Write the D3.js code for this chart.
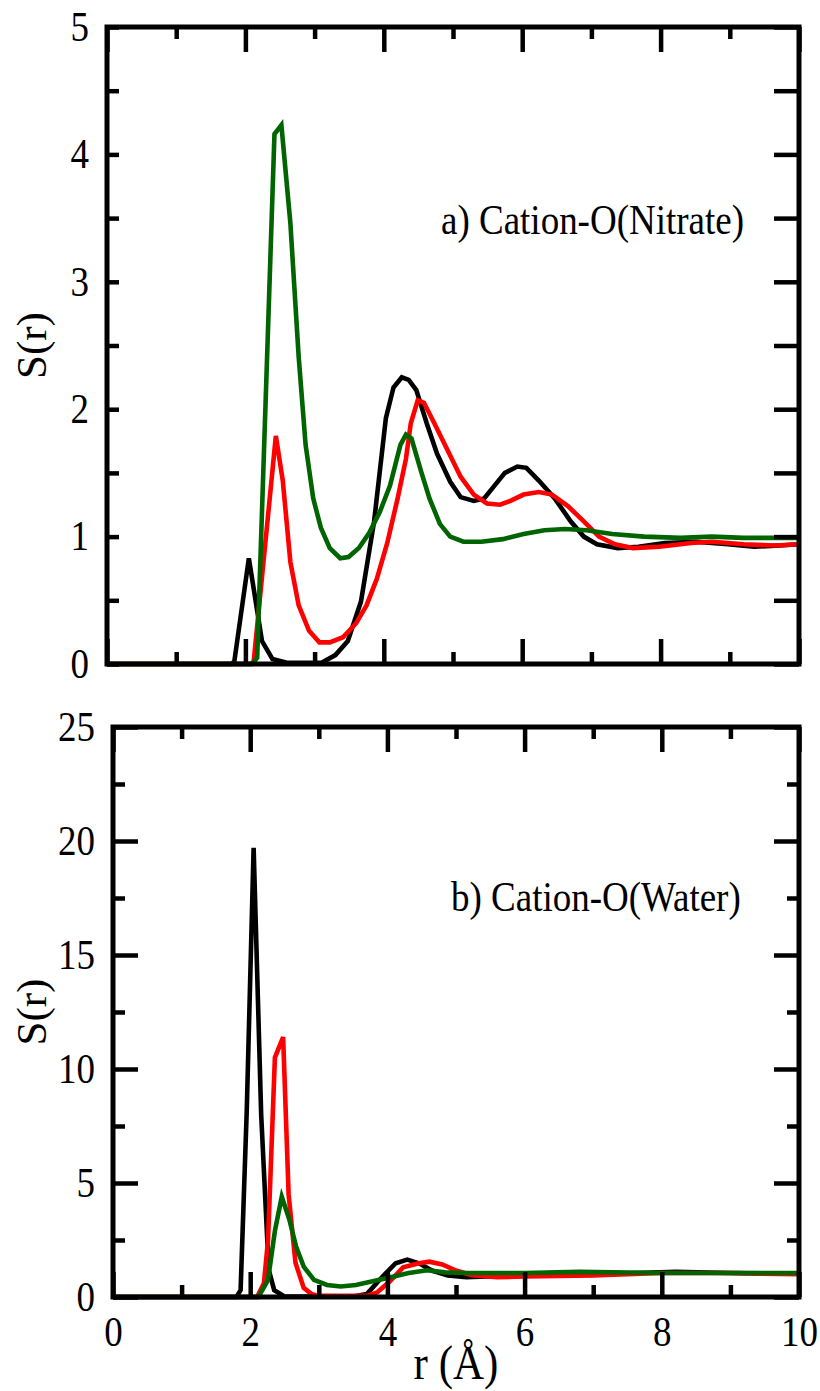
<!DOCTYPE html>
<html lang="en">
<head>
<meta charset="utf-8">
<title>S(r)</title>
<script src="https://d3js.org/d3.v7.min.js"></script>
<style>
  body { margin: 0; background: #fff; }
  text { font-family: "Liberation Serif", "Times New Roman", serif; }
</style>
</head>
<body>
<svg width="820" height="1391"></svg>
<script>
// ---- data ----
// panel a) Cation-O(Nitrate)
var rBlackA = [0, 1.8, 1.84, 2.05, 2.24, 2.39, 2.6, 3.1, 3.3, 3.48, 3.67, 3.86, 4.03, 4.14, 4.26, 4.36, 4.47, 4.62, 4.77, 4.96, 5.11, 5.3, 5.45, 5.6, 5.75, 5.93, 6.06, 6.24, 6.47, 6.7, 6.89, 7.08, 7.38, 7.68, 8.06, 8.51, 8.97, 9.35, 9.72, 10];
var sBlackA = [0, 0, 0.02, 0.83, 0.18, 0.04, 0.01, 0.01, 0.07, 0.18, 0.49, 1.12, 1.93, 2.17, 2.25, 2.23, 2.15, 1.89, 1.65, 1.43, 1.31, 1.28, 1.30, 1.40, 1.50, 1.55, 1.54, 1.44, 1.30, 1.12, 1.0, 0.94, 0.91, 0.92, 0.95, 0.96, 0.94, 0.92, 0.93, 0.94];

var rRedA = [0, 2.08, 2.12, 2.44, 2.54, 2.65, 2.77, 2.92, 3.07, 3.22, 3.41, 3.6, 3.75, 3.9, 4.05, 4.2, 4.32, 4.39, 4.49, 4.58, 4.73, 4.92, 5.11, 5.3, 5.49, 5.68, 5.83, 6.02, 6.24, 6.43, 6.66, 6.89, 7.11, 7.34, 7.6, 7.98, 8.44, 8.74, 9.2, 9.65, 10];
var sRedA = [0, 0, 0.02, 1.79, 1.44, 0.80, 0.46, 0.26, 0.17, 0.17, 0.21, 0.32, 0.46, 0.67, 0.95, 1.30, 1.61, 1.89, 2.07, 2.05, 1.89, 1.68, 1.47, 1.33, 1.26, 1.25, 1.28, 1.33, 1.35, 1.33, 1.24, 1.12, 1.0, 0.94, 0.91, 0.92, 0.95, 0.96, 0.94, 0.93, 0.94];

var rGreenA = [0, 2.1, 2.17, 2.42, 2.52, 2.65, 2.77, 2.87, 2.98, 3.09, 3.22, 3.37, 3.49, 3.64, 3.79, 3.94, 4.09, 4.24, 4.32, 4.4, 4.54, 4.66, 4.81, 4.96, 5.15, 5.41, 5.72, 6.02, 6.32, 6.62, 6.93, 7.3, 7.76, 8.29, 8.74, 9.2, 10];
var sGreenA = [0, 0, 0.05, 4.16, 4.23, 3.46, 2.41, 1.72, 1.30, 1.07, 0.91, 0.83, 0.84, 0.91, 1.03, 1.19, 1.40, 1.72, 1.80, 1.77, 1.51, 1.30, 1.10, 1.0, 0.96, 0.96, 0.98, 1.02, 1.05, 1.06, 1.05, 1.02, 1.0, 0.99, 1.0, 0.99, 0.99];

// panel b) Cation-O(Water)
var rBlackB = [0, 1.8, 1.86, 1.95, 2.05, 2.16, 2.27, 2.35, 2.5, 3.5, 3.7, 3.93, 4.12, 4.29, 4.46, 4.65, 4.88, 5.15, 5.45, 6.0, 6.6, 7.3, 8.2, 9.0, 10];
var sBlackB = [0, 0, 0.3, 8.2, 19.7, 8.0, 1.2, 0.3, 0.02, 0.02, 0.13, 0.9, 1.48, 1.64, 1.48, 1.16, 0.94, 0.87, 0.9, 0.95, 1.0, 1.02, 1.1, 1.05, 1.02];

var rRedB = [0, 2.1, 2.2, 2.26, 2.36, 2.48, 2.56, 2.66, 2.78, 2.9, 3.0, 3.7, 3.85, 4.04, 4.23, 4.46, 4.61, 4.8, 5.0, 5.23, 5.6, 6.0, 7.0, 8.0, 9.0, 10];
var sRedB = [0, 0, 0.6, 2.5, 10.5, 11.4, 4.5, 1.5, 0.4, 0.12, 0.05, 0.05, 0.2, 0.7, 1.3, 1.48, 1.55, 1.43, 1.16, 0.96, 0.87, 0.9, 0.95, 1.05, 1.05, 1.0];

var rGreenB = [0, 2.12, 2.26, 2.36, 2.46, 2.57, 2.67, 2.78, 2.93, 3.12, 3.32, 3.54, 3.77, 4.0, 4.31, 4.58, 4.84, 5.15, 6.0, 6.8, 8.0, 9.0, 10];
var sGreenB = [0, 0, 0.75, 2.9, 4.4, 3.4, 2.2, 1.33, 0.75, 0.53, 0.46, 0.53, 0.68, 0.83, 1.05, 1.17, 1.08, 1.05, 1.05, 1.1, 1.05, 1.05, 1.05];

var xTicks = [0, 2, 4, 6, 8, 10];
var xMinor = [1, 3, 5, 7, 9];
var yTicksA = [0, 1, 2, 3, 4, 5];
var yMinorA = [0.5, 1.5, 2.5, 3.5, 4.5];
var yTicksB = [0, 5, 10, 15, 20, 25];
var yMinorB = [2.5, 7.5, 12.5, 17.5, 22.5];

var colors = ["#000000", "#ff0000", "#006400"];
var stretch = 1.13; // the reference type looks a bit taller than wide

var svg = d3.select("svg");

function panel(box, yMax, yMajor, yMinorV, series, title, titlePos, showX) {
    var x = d3.scaleLinear().domain([0, 10]).range([box.left, box.right]);
    var y = d3.scaleLinear().domain([0, yMax]).range([box.bottom, box.top]);
    var g = svg.append("g");

    // curves
    var line = d3.line()
        .x(function(d){ return x(d[0]); })
        .y(function(d){ return y(d[1]); });
    series.forEach(function(s, i){
        var pts = s[0].map(function(r, k){ return [r, s[1][k]]; });
        g.append("path")
            .attr("d", line(pts))
            .attr("fill", "none")
            .attr("stroke", colors[i])
            .attr("stroke-width", 4.6)
            .attr("stroke-linejoin", "miter");
    });

    // frame
    g.append("rect")
        .attr("x", box.left).attr("y", box.top)
        .attr("width", box.right - box.left)
        .attr("height", box.bottom - box.top)
        .attr("fill", "none")
        .attr("stroke", "#000")
        .attr("stroke-width", 5);

    function styleAxis(a) {
        a.select(".domain").remove();
        a.selectAll("line").attr("stroke", "#000").attr("stroke-width", 4.5);
        a.selectAll("text")
            .attr("font-family", "Liberation Serif, serif")
            .attr("font-size", 37)
            .attr("fill", "#000")
            .attr("transform", "scale(1," + stretch + ")");
    }

    // bottom
    var ab = g.append("g").attr("transform", "translate(0," + box.bottom + ")")
        .call(d3.axisBottom(x).tickValues(xTicks).tickSize(-25).tickPadding(17)
            .tickFormat(showX ? d3.format("d") : function(){ return ""; }));
    styleAxis(ab);
    var abm = g.append("g").attr("transform", "translate(0," + box.bottom + ")")
        .call(d3.axisBottom(x).tickValues(xMinor).tickSize(-12).tickFormat(""));
    styleAxis(abm);
    // top
    var at = g.append("g").attr("transform", "translate(0," + box.top + ")")
        .call(d3.axisTop(x).tickValues(xTicks).tickSize(-25).tickFormat(""));
    styleAxis(at);
    var atm = g.append("g").attr("transform", "translate(0," + box.top + ")")
        .call(d3.axisTop(x).tickValues(xMinor).tickSize(-12).tickFormat(""));
    styleAxis(atm);
    // left
    var al = g.append("g").attr("transform", "translate(" + box.left + ",0)")
        .call(d3.axisLeft(y).tickValues(yMajor).tickSize(-box.leftMajor).tickPadding(18).tickFormat(d3.format("d")));
    styleAxis(al);
    var alm = g.append("g").attr("transform", "translate(" + box.left + ",0)")
        .call(d3.axisLeft(y).tickValues(yMinorV).tickSize(-12).tickFormat(""));
    styleAxis(alm);
    // right
    var ar = g.append("g").attr("transform", "translate(" + box.right + ",0)")
        .call(d3.axisRight(y).tickValues(yMajor).tickSize(-25).tickFormat(""));
    styleAxis(ar);
    var arm = g.append("g").attr("transform", "translate(" + box.right + ",0)")
        .call(d3.axisRight(y).tickValues(yMinorV).tickSize(-box.rightMinor).tickFormat(""));
    styleAxis(arm);

    // y label
    g.append("text")
        .attr("transform", "translate(46," + ((box.top + box.bottom) / 2) + ") rotate(-90)")
        .attr("text-anchor", "middle")
        .attr("font-size", 43)
        .text("S(r)");

    // panel title
    g.append("text")
        .attr("transform", "translate(" + titlePos[0] + "," + titlePos[1] + ") scale(1," + stretch + ")")
        .attr("font-size", 37)
        .text(title);

    if (showX) {
        g.append("text")
            .attr("transform", "translate(" + ((box.left + box.right) / 2) + ",1379) scale(1," + stretch + ")")
            .attr("text-anchor", "middle")
            .attr("font-size", 43)
            .text("r (Å)");
    }
}

panel({left: 107, right: 799, top: 27, bottom: 664, leftMajor: 12, rightMinor: 25},
      5, yTicksA, yMinorA,
      [[rBlackA, sBlackA], [rRedA, sRedA], [rGreenA, sGreenA]],
      "a) Cation-O(Nitrate)", [441, 234], false);

panel({left: 113, right: 799, top: 727, bottom: 1297, leftMajor: 25, rightMinor: 12},
      25, yTicksB, yMinorB,
      [[rBlackB, sBlackB], [rRedB, sRedB], [rGreenB, sGreenB]],
      "b) Cation-O(Water)", [451, 911], true);
</script>
</body>
</html>
